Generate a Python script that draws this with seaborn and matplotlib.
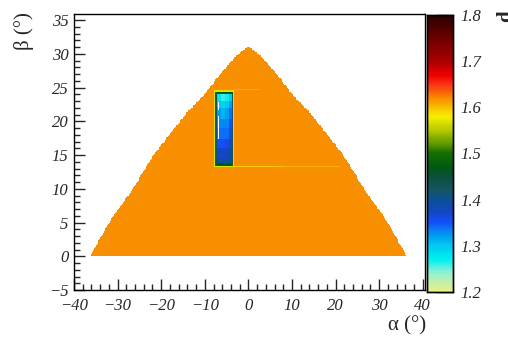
import numpy as np
import pandas as pd
import matplotlib
matplotlib.use("Agg")
import matplotlib.pyplot as plt
import seaborn as sns
from matplotlib.colors import LinearSegmentedColormap
from matplotlib.ticker import MultipleLocator

# ---- data ----
# outline of the filled region: half width in alpha at given beta
edge_beta = [0, 5, 10, 15, 18.1, 21.3, 23.8, 27, 29.8, 31.1]
edge_half = [36.3, 32.0, 26.5, 21.8, 18.0, 14.1, 10.3, 6.5, 2.7, 0.0]
base_value = 1.618

# window region (table of values, rows top->bottom)
win_alpha = [-7.8, -7.5, -7.1, -6.2, -5.3, -4.4, -3.8, -3.5, -3.2]
win_beta = [24.7, 24.4, 24.0, 23.0, 22.0, 20.5, 19.0, 17.5, 16.0, 14.5, 13.8, 13.5, 13.2]
win_values = [
    [1.57, 1.57, 1.57, 1.57, 1.57, 1.57, 1.57, 1.57],
    [1.57, 1.49, 1.47, 1.46, 1.46, 1.47, 1.49, 1.57],
    [1.57, 1.44, 1.28, 1.26, 1.27, 1.30, 1.44, 1.57],
    [1.57, 1.42, 1.30, 1.29, 1.30, 1.32, 1.42, 1.57],
    [1.57, 1.41, 1.32, 1.31, 1.32, 1.34, 1.41, 1.57],
    [1.57, 1.41, 1.33, 1.33, 1.33, 1.35, 1.41, 1.57],
    [1.57, 1.41, 1.34, 1.34, 1.34, 1.36, 1.42, 1.57],
    [1.57, 1.42, 1.35, 1.35, 1.36, 1.37, 1.42, 1.57],
    [1.57, 1.42, 1.37, 1.37, 1.38, 1.39, 1.43, 1.57],
    [1.57, 1.44, 1.40, 1.40, 1.40, 1.41, 1.44, 1.57],
    [1.57, 1.49, 1.47, 1.47, 1.47, 1.47, 1.49, 1.57],
    [1.57, 1.57, 1.57, 1.57, 1.57, 1.57, 1.57, 1.57],
]

# thin streaks: beta, alpha from, alpha to, value
streak_beta = [13.3, 13.3, 24.8]
streak_a0 = [-3.2, 8.0, -3.2]
streak_a1 = [8.0, 21.0, 2.7]
streak_val = [1.595, 1.605, 1.607]

# empty bins (white): alpha, beta from, beta to
gap_alpha = [-6.9, -6.9]
gap_b0 = [21.6, 17.4]
gap_b1 = [22.8, 20.8]

# colour palette stops (z value, colour)
pal_z = [1.2, 1.24, 1.27, 1.30, 1.32, 1.35, 1.37, 1.40, 1.42, 1.45, 1.47, 1.50,
         1.52, 1.55, 1.58, 1.60, 1.62, 1.65, 1.67, 1.70, 1.75, 1.80]
pal_c = ["#ecf082", "#96f0d2", "#00f0f0", "#00c8f0", "#00a0f0", "#1450fa", "#1446c8",
         "#0a5096", "#145564", "#0a503c", "#005a14", "#146e00", "#5a9600", "#b4c800",
         "#f5f000", "#fabe00", "#f88c00", "#fa3214", "#f00000", "#aa0000", "#6e0000",
         "#280000"]

step = 0.2
alpha_edges = np.arange(-40, 40 + step / 2, step)
beta_edges = np.arange(-5, 36 + step / 2, step)

# ---- build bins ----
ac = (alpha_edges[:-1] + alpha_edges[1:]) / 2
bc = (beta_edges[:-1] + beta_edges[1:]) / 2
A, B = np.meshgrid(ac, bc)
half = np.interp(B, edge_beta, edge_half)
inside = (B >= 0) & (B <= edge_beta[-1]) & (np.abs(A) <= half)
Z = np.where(inside, base_value, np.nan)

for b, a0, a1, v in zip(streak_beta, streak_a0, streak_a1, streak_val):
    sel = inside & (np.abs(B - b) < step / 2) & (A >= a0) & (A <= a1)
    Z[sel] = v

wv = np.array(win_values)
inwin = (A >= win_alpha[0]) & (A <= win_alpha[-1]) & (B <= win_beta[0]) & (B >= win_beta[-1])
ci = np.clip(np.searchsorted(win_alpha, A[inwin]) - 1, 0, wv.shape[1] - 1)
ri = np.clip(np.searchsorted(-np.array(win_beta), -B[inwin]) - 1, 0, wv.shape[0] - 1)
Z[inwin] = wv[ri, ci]

for a, b0, b1 in zip(gap_alpha, gap_b0, gap_b1):
    sel = (np.abs(A - a) < step / 2) & (B >= b0) & (B <= b1)
    Z[sel] = np.nan

ok = ~np.isnan(Z)
df = pd.DataFrame({"alpha": A[ok], "beta": B[ok], "d": Z[ok]})

# ---- plot ----
sns.set_style("ticks")
plt.rcParams["font.family"] = ["Liberation Serif", "DejaVu Serif"]

pos = np.clip(np.round((np.array(pal_z) - 1.2) / 0.6, 4), 0, 1)
pos[0], pos[-1] = 0.0, 1.0
cmap = LinearSegmentedColormap.from_list("root", list(zip(pos, pal_c)))

fig = plt.figure(figsize=(5.08, 3.38), dpi=100)
ax = fig.add_axes([74 / 508, 48 / 338, 351 / 508, 276 / 338])
cax = fig.add_axes([427 / 508, 46 / 338, 26 / 508, 277 / 338])

sns.histplot(data=df, x="alpha", y="beta", weights="d", bins=[alpha_edges, beta_edges],
             cmap=cmap, vmin=1.2, vmax=1.8, cbar=True, cbar_ax=cax, ax=ax,
             rasterized=True)

ax.set_xlim(-40, 40.5)
ax.set_ylim(-5, 35.9)
for s in ax.spines.values():
    s.set_visible(True)
    s.set_linewidth(1.0)
    s.set_color("black")
ax.xaxis.set_major_locator(MultipleLocator(10))
ax.xaxis.set_minor_locator(MultipleLocator(2))
ax.yaxis.set_major_locator(MultipleLocator(5))
ax.yaxis.set_minor_locator(MultipleLocator(1))
ax.tick_params(which="both", direction="in", top=False, right=False, labelsize=12)
ax.tick_params(which="major", length=8, width=1)
ax.tick_params(which="minor", length=4, width=1)
ax.tick_params(axis="x", pad=5.5)
ax.tick_params(axis="y", pad=4)
for lab in ax.get_xticklabels() + ax.get_yticklabels():
    lab.set_fontstyle("italic")
ax.set_xlabel("")
ax.set_ylabel("")
fig.text(426 / 508, 3 / 338, "α (°)", ha="right", va="bottom", fontsize=15)
fig.text(14 / 508, 1 - 12 / 338, "β (°)", ha="left", va="top", rotation=90, fontsize=15)

cax.set_ylim(1.2, 1.8)
cax.yaxis.set_major_locator(MultipleLocator(0.1))
cax.tick_params(which="both", direction="in", length=12, width=1, labelsize=12, pad=5,
                left=False, right=True, labelright=True, labelleft=False)
for lab in cax.get_yticklabels():
    lab.set_fontstyle("italic")
for s in cax.spines.values():
    s.set_visible(True)
    s.set_linewidth(1.0)
    s.set_color("black")
fig.text(496 / 508, 1 - 10 / 338, "d", ha="left", va="top", rotation=90,
         fontsize=15, fontweight="bold")

fig.savefig("out.png", dpi=100)
